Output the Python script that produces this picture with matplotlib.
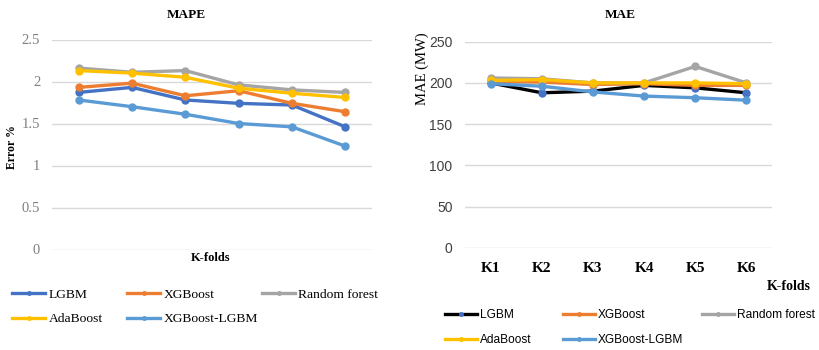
import numpy as np
import matplotlib
matplotlib.use('Agg')
from matplotlib import pyplot as plt

folds = ['K1', 'K2', 'K3', 'K4', 'K5', 'K6']
models = ['LGBM', 'XGBoost', 'Random forest', 'AdaBoost', 'XGBoost-LGBM']

# MAPE (%) per fold
mape_lgbm = [1.87, 1.93, 1.78, 1.74, 1.72, 1.46]
mape_xgb = [1.93, 1.98, 1.83, 1.89, 1.74, 1.64]
mape_rf = [2.16, 2.11, 2.13, 1.96, 1.90, 1.87]
mape_ada = [2.13, 2.10, 2.05, 1.92, 1.86, 1.81]
mape_hyb = [1.78, 1.70, 1.61, 1.50, 1.46, 1.23]

# MAE (MW) per fold
mae_lgbm = [200, 188, 190, 197, 194, 188]
mae_xgb = [202, 201, 198, 199, 197, 197]
mae_rf = [206, 205, 200, 200, 220, 200]
mae_ada = [203, 204, 200, 200, 200, 199]
mae_hyb = [199, 196, 189, 184, 182, 179]

c_blue = '#4472C4'
c_orange = '#ED7D31'
c_gray = '#A5A5A5'
c_yellow = '#FFC000'
c_light = '#5B9BD5'

W, H = 820, 350
fig = plt.figure(figsize=(W / 100, H / 100), dpi=100)


def box(x0, y0, x1, y1):
    # pixel box -> figure fraction rect
    return [x0 / W, 1 - y1 / H, (x1 - x0) / W, (y1 - y0) / H]


def style_axes(ax):
    for s in ax.spines.values():
        s.set_visible(False)
    ax.grid(axis='y', color='#D9D9D9', lw=1.0)
    ax.set_axisbelow(True)
    ax.tick_params(length=0)
    ax.set_xlim(-0.5, 5.5)


def column_legends(handles, labels, cols_x, row1_y, prop, hl, lsp):
    # one legend per column so each column sits where the reference has it
    top = row1_y - 0.35 * prop['size'] * 100 / 72
    groups = [[0, 3], [1, 4], [2]]
    for xpx, g in zip(cols_x, groups):
        fig.legend([handles[i] for i in g], [labels[i] for i in g], loc='upper left',
                   bbox_to_anchor=(xpx / W, 1 - top / H), frameon=False, prop=prop,
                   handlelength=hl, handletextpad=0.25, labelspacing=lsp,
                   borderaxespad=0, borderpad=0, markerscale=0.5)


x = np.arange(len(folds))
serif = 'Liberation Serif'
sans = 'Liberation Sans'
lw, ms = 2.4, 5

# ---------- MAPE ----------
ax1 = fig.add_axes(box(52, 39.5, 372, 249.5))
style_axes(ax1)
series1 = [(mape_lgbm, c_blue, c_blue), (mape_xgb, c_orange, c_orange), (mape_rf, c_gray, c_gray),
           (mape_ada, c_yellow, c_yellow), (mape_hyb, c_light, c_light)]
h1 = []
for (vals, lc, mc), name in zip(series1, models):
    h, = ax1.plot(x, vals, color=lc, lw=lw, marker='o', ms=ms, mfc=mc, mec=mc, label=name)
    h1.append(h)
ax1.set_ylim(0, 2.5)
ax1.set_yticks([0, 0.5, 1, 1.5, 2, 2.5])
ax1.set_yticklabels(['0', '0.5', '1', '1.5', '2', '2.5'], family=serif, fontsize=10.5, color='#7F7F7F')
ax1.tick_params(axis='y', pad=8.5)
ax1.set_xticks([])
fig.text(186 / W, 1 - 15 / H, 'MAPE', family=serif, fontweight='bold', fontsize=9.5, ha='center', va='center')
fig.text(211 / W, 1 - 258 / H, 'K-folds', family=serif, fontweight='bold', fontsize=9, ha='center', va='center')
fig.text(12 / W, 1 - 147 / H, 'Error %', family=serif, fontweight='bold', fontsize=8.5, rotation=90,
         ha='center', va='center')

column_legends(h1, models, [12, 127, 262], 293, {'family': serif, 'size': 9.7}, 2.45, 0.9)

# ---------- MAE ----------
ax2 = fig.add_axes(box(465, 41.7, 772, 247.7))
style_axes(ax2)
series2 = [(mae_lgbm, 'black', c_blue), (mae_xgb, c_orange, c_orange), (mae_rf, c_gray, c_gray),
           (mae_ada, c_yellow, c_yellow), (mae_hyb, c_light, c_light)]
h2 = []
for (vals, lc, mc), name in zip(series2, models):
    h, = ax2.plot(x, vals, color=lc, lw=lw, marker='o', ms=ms, mfc=mc, mec=mc, label=name)
    h2.append(h)
ax2.set_ylim(0, 250)
ax2.set_yticks([0, 50, 100, 150, 200, 250])
ax2.set_yticklabels(['0', '50', '100', '150', '200', '250'], family=sans, fontsize=10, color='#404040')
ax2.tick_params(axis='y', pad=9)
ax2.set_xticks(x)
ax2.set_xticklabels(folds, family=serif, fontweight='bold', fontsize=11)
ax2.tick_params(axis='x', pad=10)
fig.text(620 / W, 1 - 15 / H, 'MAE', family=serif, fontweight='bold', fontsize=9.5, ha='center', va='center')
fig.text(789 / W, 1 - 287 / H, 'K-folds', family=serif, fontweight='bold', fontsize=10, ha='center', va='center')
fig.text(422 / W, 1 - 69 / H, 'MAE (MW)', family=serif, fontsize=10.5, rotation=90, ha='center', va='center')

column_legends(h2, models, [445, 563, 702], 313, {'family': sans, 'size': 8.6}, 2.67, 1.1)

fig.savefig('out.png', dpi=100)
